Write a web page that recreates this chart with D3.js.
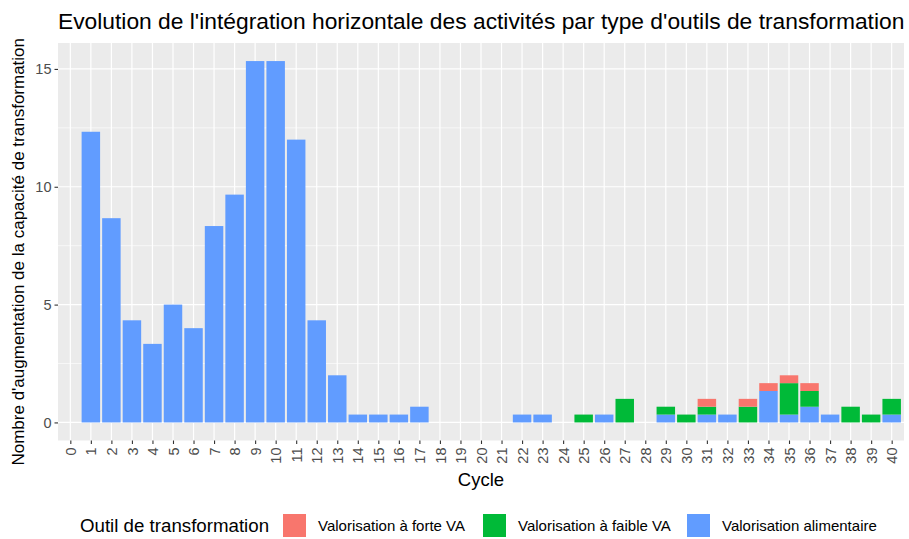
<!DOCTYPE html>
<html>
<head>
<meta charset="utf-8">
<script src="https://cdn.jsdelivr.net/npm/d3@7"></script>
<style>
  body { margin: 0; background: #fff; }
  svg { display: block; font-family: "Liberation Sans", Arial, sans-serif; }
</style>
</head>
<body>
<svg id="chart" width="909" height="539"></svg>
<script>
// Cycles 0..40
const cycles = d3.range(0, 41);

// Increase in processing capacity per cycle, by type of tool
const forteVA = [0,0,0,0,0,0,0,0,0,0, 0,0,0,0,0,0,0,0,0,0, 0,0,0,0,0,0,0,0,0,0, 0,1/3,0,1/3,1/3,1/3,1/3,0,0,0, 0];
const faibleVA = [0,0,0,0,0,0,0,0,0,0, 0,0,0,0,0,0,0,0,0,0, 0,0,0,0,0,1/3,0,1,0,1/3, 1/3,1/3,0,2/3,0,4/3,2/3,0,2/3,1/3, 2/3];
const alimentaire = [0,37/3,26/3,13/3,10/3,5,4,25/3,29/3,46/3, 46/3,12,13/3,2,1/3,1/3,1/3,2/3,0,0, 0,0,1/3,1/3,0,0,1/3,0,0,1/3, 0,1/3,1/3,0,4/3,1/3,2/3,1/3,0,0, 1/3];

const seriesKeys = ["alimentaire", "faibleVA", "forteVA"];
const seriesLabels = {
  forteVA: "Valorisation à forte VA",
  faibleVA: "Valorisation à faible VA",
  alimentaire: "Valorisation alimentaire"
};
const legendOrder = ["forteVA", "faibleVA", "alimentaire"];
const colors = { forteVA: "#F8766D", faibleVA: "#00BA38", alimentaire: "#619CFF" };

const yTicks = [0, 5, 10, 15];
const yMinor = [2.5, 7.5, 12.5];

const rows = cycles.map((c, i) => ({
  cycle: c,
  alimentaire: alimentaire[i],
  faibleVA: faibleVA[i],
  forteVA: forteVA[i]
}));

const stacked = d3.stack().keys(seriesKeys)(rows);

const svg = d3.select("#chart");
const panel = { left: 58, right: 904, top: 43, bottom: 440.5 };

const x = d3.scaleLinear()
  .domain([-0.6, 40.6])
  .range([panel.left, panel.right]);

const maxTotal = d3.max(rows, d => d.alimentaire + d.faibleVA + d.forteVA);
const y = d3.scaleLinear()
  .domain([-maxTotal * 0.05, maxTotal * 1.05])
  .range([panel.bottom, panel.top]);

// panel background
svg.append("rect")
  .attr("x", panel.left).attr("y", panel.top)
  .attr("width", panel.right - panel.left)
  .attr("height", panel.bottom - panel.top)
  .attr("fill", "#EBEBEB");

// grid lines
const grid = svg.append("g");
grid.selectAll("line.minor").data(yMinor).join("line")
  .attr("x1", panel.left).attr("x2", panel.right)
  .attr("y1", d => y(d)).attr("y2", d => y(d))
  .attr("stroke", "#fff").attr("stroke-width", 0.6);
grid.selectAll("line.majy").data(yTicks).join("line")
  .attr("x1", panel.left).attr("x2", panel.right)
  .attr("y1", d => y(d)).attr("y2", d => y(d))
  .attr("stroke", "#fff").attr("stroke-width", 1.2);
grid.selectAll("line.majx").data(cycles).join("line")
  .attr("x1", d => x(d)).attr("x2", d => x(d))
  .attr("y1", panel.top).attr("y2", panel.bottom)
  .attr("stroke", "#fff").attr("stroke-width", 1.2);

// stacked bars
const bw = (x(1) - x(0)) * 0.9;
svg.append("g").selectAll("g").data(stacked).join("g")
  .attr("fill", d => colors[d.key])
  .selectAll("rect").data(d => d.filter(p => p[1] - p[0] > 0)).join("rect")
  .attr("x", d => x(d.data.cycle) - bw / 2)
  .attr("width", bw)
  .attr("y", d => y(d[1]))
  .attr("height", d => y(d[0]) - y(d[1]));

// y axis
const yAxis = d3.axisLeft(y).tickValues(yTicks).tickSize(3.5).tickPadding(3);
const gy = svg.append("g").attr("transform", `translate(${panel.left},0)`).call(yAxis);
gy.select(".domain").remove();
gy.selectAll(".tick line").attr("stroke", "#333").attr("stroke-width", 1.1);
gy.selectAll(".tick text").attr("fill", "#4D4D4D").style("font-size", "14.5px")
  .style("font-family", "Liberation Sans, Arial, sans-serif");

// x axis
const xAxis = d3.axisBottom(x).tickValues(cycles).tickFormat(d3.format("d")).tickSize(3.5).tickPadding(3);
const gx = svg.append("g").attr("transform", `translate(0,${panel.bottom})`).call(xAxis);
gx.select(".domain").remove();
gx.selectAll(".tick line").attr("stroke", "#333").attr("stroke-width", 1.1);
gx.selectAll(".tick text")
  .attr("fill", "#4D4D4D").style("font-size", "14.5px")
  .style("font-family", "Liberation Sans, Arial, sans-serif")
  .attr("transform", "rotate(-90)")
  .attr("text-anchor", "end")
  .attr("dy", "0.35em")
  .attr("x", -7)
  .attr("y", 0);

// titles
svg.append("text")
  .attr("x", panel.left).attr("y", 28.5)
  .style("font-size", "22.8px").attr("fill", "#000")
  .text("Evolution de l'intégration horizontale des activités par type d'outils de transformation");

svg.append("text")
  .attr("x", (panel.left + panel.right) / 2).attr("y", 486)
  .attr("text-anchor", "middle")
  .style("font-size", "18.5px").attr("fill", "#000")
  .text("Cycle");

svg.append("text")
  .attr("transform", `translate(24,${(panel.top + panel.bottom) / 2 + 10}) rotate(-90)`)
  .attr("text-anchor", "middle")
  .style("font-size", "17px").attr("fill", "#000")
  .text("Nombre d'augmentation de la capacité de transformation");

// legend
const legendY = 525.5;
const leg = svg.append("g");
leg.append("text")
  .attr("x", 80).attr("y", legendY).attr("dy", "0.35em")
  .style("font-size", "18.7px").attr("fill", "#000")
  .text("Outil de transformation");
const keyX = { forteVA: 283, faibleVA: 483, alimentaire: 687 };
legendOrder.forEach(k => {
  leg.append("rect")
    .attr("x", keyX[k]).attr("y", legendY - 11.5)
    .attr("width", 23).attr("height", 23)
    .attr("fill", colors[k]);
  leg.append("text")
    .attr("x", keyX[k] + 35).attr("y", legendY).attr("dy", "0.35em")
    .style("font-size", "15px").attr("fill", "#000")
    .text(seriesLabels[k]);
});
</script>
</body>
</html>
